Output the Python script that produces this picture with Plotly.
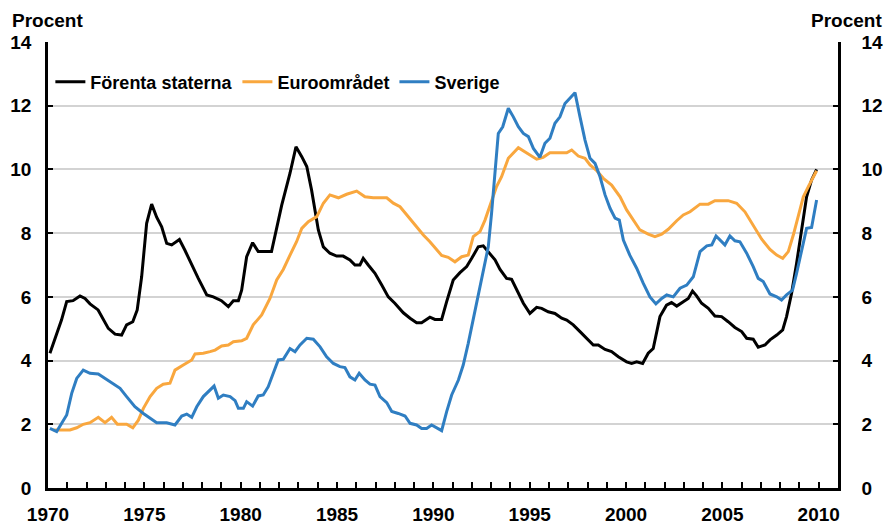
import plotly.graph_objects as go

# ---- Data ----
us_t = [1970.1, 1970.45, 1970.7, 1970.97, 1971.3, 1971.66, 1971.92, 1972.18, 1972.6, 1973.13,
        1973.48, 1973.82, 1974.08, 1974.4, 1974.63, 1974.86, 1975.12, 1975.38, 1975.64, 1975.9,
        1976.16, 1976.42, 1976.82, 1977.1, 1977.46, 1977.8, 1978.24, 1978.58, 1979.0, 1979.36,
        1979.62, 1979.88, 1980.05, 1980.31, 1980.62, 1980.91, 1981.6, 1981.87, 1982.13, 1982.56,
        1982.87, 1983.17, 1983.43, 1983.68, 1984.03, 1984.29, 1984.63, 1984.98, 1985.32, 1985.67,
        1985.93, 1986.19, 1986.36, 1986.62, 1986.97, 1987.32, 1987.66, 1988.0, 1988.44, 1988.79,
        1989.13, 1989.39, 1989.82, 1990.08, 1990.43, 1990.69, 1991.03, 1991.38, 1991.73, 1991.99,
        1992.33, 1992.59, 1992.85, 1993.2, 1993.46, 1993.8, 1994.06, 1994.32, 1994.67, 1995.01,
        1995.36, 1995.62, 1995.96, 1996.31, 1996.66, 1996.92, 1997.26, 1997.61, 1997.96, 1998.3,
        1998.56, 1998.91, 1999.25, 1999.6, 2000.03, 2000.29, 2000.55, 2000.86, 2001.15, 2001.41,
        2001.76, 2002.1, 2002.36, 2002.63, 2002.97, 2003.23, 2003.45, 2003.66, 2003.92, 2004.27,
        2004.61, 2004.96, 2005.3, 2005.65, 2006.0, 2006.26, 2006.6, 2006.86, 2007.21, 2007.47,
        2007.82, 2008.13, 2008.33, 2008.59, 2008.85, 2009.11, 2009.37, 2009.63, 2009.89]
us_v = [4.23, 4.86, 5.27, 5.85, 5.88, 6.03, 5.95, 5.78, 5.59, 5.01,
        4.83, 4.8, 5.12, 5.22, 5.59, 6.63, 8.31, 8.91, 8.5, 8.2,
        7.68, 7.63, 7.8, 7.47, 7.0, 6.58, 6.06, 6.0, 5.88, 5.69,
        5.88, 5.88, 6.21, 7.26, 7.7, 7.42, 7.42, 8.2, 8.88, 9.88,
        10.71, 10.4, 10.09, 9.35, 8.1, 7.57, 7.37, 7.28, 7.28, 7.16,
        7.0, 7.0, 7.21, 7.0, 6.74, 6.37, 6.0, 5.8, 5.5, 5.33,
        5.19, 5.19, 5.36, 5.29, 5.29, 5.85, 6.53, 6.76, 6.95, 7.21,
        7.57, 7.6, 7.42, 7.16, 6.86, 6.58, 6.55, 6.21, 5.8, 5.48,
        5.67, 5.64, 5.53, 5.48, 5.33, 5.27, 5.12, 4.91, 4.7, 4.49,
        4.49, 4.35, 4.28, 4.12, 3.96, 3.91, 3.96, 3.91, 4.23, 4.38,
        5.38, 5.74, 5.82, 5.71, 5.85, 5.95, 6.18, 6.03, 5.8, 5.64,
        5.4, 5.38, 5.22, 5.04, 4.91, 4.7, 4.67, 4.42, 4.49, 4.65,
        4.8, 4.96, 5.38, 6.11, 7.05, 8.1, 9.14, 9.67, 10.0]

ez_t = [1970.28, 1971.14, 1971.49, 1971.83, 1972.18, 1972.61, 1972.96, 1973.3, 1973.6, 1974.08,
        1974.4, 1974.69, 1974.95, 1975.3, 1975.64, 1975.98, 1976.33, 1976.59, 1977.02, 1977.46,
        1977.63, 1978.06, 1978.41, 1978.67, 1979.01, 1979.36, 1979.62, 1980.05, 1980.31, 1980.65,
        1981.09, 1981.52, 1981.87, 1982.21, 1982.56, 1982.9, 1983.17, 1983.51, 1983.95, 1984.29,
        1984.63, 1985.07, 1985.5, 1986.02, 1986.45, 1986.88, 1987.58, 1987.92, 1988.27, 1988.61,
        1989.05, 1989.48, 1989.82, 1990.17, 1990.43, 1990.77, 1991.12, 1991.47, 1991.81, 1992.07,
        1992.42, 1992.68, 1992.94, 1993.28, 1993.54, 1993.89, 1994.41, 1994.84, 1995.36, 1995.7,
        1996.05, 1996.57, 1996.92, 1997.18, 1997.52, 1997.87, 1998.13, 1998.48, 1998.82, 1999.25,
        1999.69, 2000.03, 2000.37, 2000.72, 2001.15, 2001.5, 2001.85, 2002.19, 2002.63, 2002.97,
        2003.32, 2003.84, 2004.27, 2004.61, 2005.3, 2005.74, 2006.17, 2006.6, 2007.04, 2007.47,
        2007.82, 2008.13, 2008.42, 2008.68, 2008.94, 2009.2, 2009.46, 2009.89]
ez_v = [1.82, 1.82, 1.89, 2.0, 2.05, 2.22, 2.05, 2.22, 2.0, 2.0,
        1.89, 2.13, 2.5, 2.87, 3.13, 3.26, 3.29, 3.7, 3.86, 4.02,
        4.21, 4.23, 4.28, 4.33, 4.46, 4.49, 4.59, 4.62, 4.7, 5.12,
        5.43, 5.95, 6.53, 6.86, 7.31, 7.73, 8.15, 8.36, 8.52, 8.94,
        9.2, 9.11, 9.22, 9.32, 9.14, 9.11, 9.11, 8.94, 8.83, 8.57,
        8.25, 7.94, 7.73, 7.47, 7.3, 7.24, 7.1, 7.26, 7.31, 7.89,
        8.05, 8.41, 8.88, 9.46, 9.77, 10.35, 10.68, 10.52, 10.32, 10.38,
        10.52, 10.52, 10.52, 10.61, 10.42, 10.35, 10.14, 9.96, 9.72, 9.51,
        9.14, 8.73, 8.41, 8.1, 7.97, 7.89, 7.97, 8.12, 8.39, 8.57,
        8.67, 8.91, 8.91, 9.02, 9.02, 8.94, 8.67, 8.25, 7.81, 7.49,
        7.31, 7.21, 7.42, 7.94, 8.57, 9.14, 9.46, 9.96]

se_t = [1970.1, 1970.45, 1970.71, 1970.97, 1971.23, 1971.49, 1971.83, 1972.18, 1972.61, 1972.96,
        1973.3, 1973.74, 1974.08, 1974.51, 1974.95, 1975.3, 1975.64, 1976.16, 1976.59, 1976.94,
        1977.2, 1977.46, 1977.72, 1978.06, 1978.41, 1978.62, 1978.84, 1979.1, 1979.45, 1979.71,
        1979.88, 1980.14, 1980.31, 1980.62, 1980.91, 1981.17, 1981.43, 1981.69, 1981.95, 1982.21,
        1982.56, 1982.82, 1983.08, 1983.43, 1983.77, 1984.12, 1984.46, 1984.81, 1985.15, 1985.41,
        1985.67, 1985.93, 1986.15, 1986.45, 1986.71, 1986.97, 1987.23, 1987.58, 1987.84, 1988.18,
        1988.53, 1988.79, 1989.13, 1989.39, 1989.65, 1989.91, 1990.17, 1990.43, 1990.69, 1990.95,
        1991.3, 1991.55, 1991.81, 1992.07, 1992.33, 1992.59, 1992.85, 1993.02, 1993.2, 1993.37,
        1993.6, 1993.89, 1994.15, 1994.41, 1994.67, 1994.93, 1995.19, 1995.53, 1995.79, 1996.05,
        1996.31, 1996.57, 1996.83, 1997.09, 1997.35, 1997.61, 1997.87, 1998.13, 1998.39, 1998.65,
        1998.91, 1999.17, 1999.43, 1999.65, 1999.86, 2000.2, 2000.55, 2000.89, 2001.24, 2001.55,
        2001.85, 2002.11, 2002.45, 2002.8, 2003.15, 2003.49, 2003.84, 2004.19, 2004.45, 2004.67,
        2004.91, 2005.13, 2005.39, 2005.65, 2005.91, 2006.26, 2006.6, 2006.86, 2007.12, 2007.47,
        2007.82, 2008.07, 2008.33, 2008.64, 2008.85, 2009.11, 2009.37, 2009.63, 2009.89]
se_v = [1.87, 1.77, 2.03, 2.29, 2.97, 3.44, 3.7, 3.6, 3.58, 3.44,
        3.29, 3.13, 2.87, 2.55, 2.34, 2.19, 2.05, 2.05, 1.98, 2.26,
        2.32, 2.22, 2.55, 2.87, 3.08, 3.2, 2.82, 2.92, 2.87, 2.74,
        2.5, 2.5, 2.71, 2.57, 2.89, 2.92, 3.18, 3.6, 4.02, 4.04,
        4.38, 4.28, 4.49, 4.7, 4.67, 4.43, 4.12, 3.91, 3.81, 3.78,
        3.49, 3.39, 3.6, 3.39, 3.26, 3.23, 2.87, 2.68, 2.4, 2.34,
        2.26, 2.03, 1.98, 1.87, 1.87, 1.98, 1.89, 1.8, 2.4, 2.92,
        3.39, 3.86, 4.54, 5.27, 6.11, 6.74, 7.57, 8.62, 9.98, 11.13,
        11.34, 11.92, 11.65, 11.34, 11.13, 11.03, 10.66, 10.38, 10.82, 10.98,
        11.45, 11.65, 12.07, 12.23, 12.41, 11.65, 10.92, 10.35, 10.19, 9.77,
        9.2, 8.78, 8.47, 8.41, 7.78, 7.3, 6.9, 6.43, 6.0, 5.78,
        5.95, 6.06, 6.0, 6.27, 6.37, 6.63, 7.42, 7.6, 7.63, 7.91,
        7.78, 7.63, 7.91, 7.76, 7.73, 7.37, 6.95, 6.58, 6.48, 6.09,
        6.0, 5.9, 6.06, 6.21, 6.74, 7.47, 8.15, 8.18, 9.04]

series_names = ["Förenta staterna", "Euroområdet", "Sverige"]
series_colors = ["#000000", "#F9A73E", "#2F7EC2"]
y_tickvals = [0, 2, 4, 6, 8, 10, 12, 14]
x_range = [1970, 2011]

FONT = "Liberation Sans, Arial, sans-serif"
PW, PH = 790, 446  # plot area size in px

fig = go.Figure()
for name, t, v, c in zip(series_names, [us_t, ez_t, se_t], [us_v, ez_v, se_v], series_colors):
    fig.add_trace(go.Scatter(x=t, y=v, name=name, mode="lines",
                             line=dict(color=c, width=3)))

# invisible trace to activate right axis
fig.add_trace(go.Scatter(x=[1970], y=[0], yaxis="y2", showlegend=False,
                         mode="markers", marker=dict(opacity=0), hoverinfo="skip"))

tickfont = dict(family=FONT, size=19, color="#000000", weight="bold")

fig.update_layout(
    width=895, height=525,
    margin=dict(l=40, r=65, t=34, b=45, autoexpand=False),
    paper_bgcolor="white", plot_bgcolor="white",
    font=dict(family=FONT, color="#000000"),
    showlegend=True,
    legend=dict(orientation="h", x=0.003, y=(480 - 74) / PH, xanchor="left", yanchor="middle",
                bgcolor="rgba(0,0,0,0)", font=dict(family=FONT, size=18, color="#000", weight="bold"),
                itemwidth=30, tracegroupgap=0),
    xaxis=dict(range=x_range, tick0=1970, dtick=5, ticks="inside", ticklen=6, tickwidth=2,
               tickcolor="#000", showline=True, linecolor="#000", linewidth=2.5,
               showgrid=False, zeroline=False, tickfont=tickfont, ticklabelstandoff=7,
               automargin=False,
               minor=dict(dtick=1, tick0=1970, ticks="inside", ticklen=6, tickwidth=2,
                          tickcolor="#000", showgrid=False)),
    yaxis=dict(range=[0, 14], tickvals=y_tickvals, ticks="inside", ticklen=5, tickwidth=2,
               tickcolor="#000", showline=True, linecolor="#000", linewidth=2.5,
               showgrid=True, gridcolor="#D3D3D3", gridwidth=1.5, zeroline=False,
               tickfont=tickfont, ticklabelstandoff=10, automargin=False),
    yaxis2=dict(range=[0, 14], tickvals=y_tickvals, overlaying="y", side="right",
                ticks="inside", ticklen=5, tickwidth=2, tickcolor="#000",
                showline=True, linecolor="#000", linewidth=2.5, showgrid=False,
                zeroline=False, tickfont=tickfont, ticklabelstandoff=17, automargin=False),
)

procent_font = dict(family=FONT, size=19, color="#000", weight="bold")
fig.add_annotation(text="Procent", xref="paper", yref="paper",
                   x=-37/PW, y=1 + 21/PH, xanchor="left", yanchor="middle",
                   showarrow=False, font=procent_font, borderpad=0)
fig.add_annotation(text="Procent", xref="paper", yref="paper",
                   x=1 + 45/PW, y=1 + 21/PH, xanchor="right", yanchor="middle",
                   showarrow=False, font=procent_font, borderpad=0)

fig.write_html("out.html")
